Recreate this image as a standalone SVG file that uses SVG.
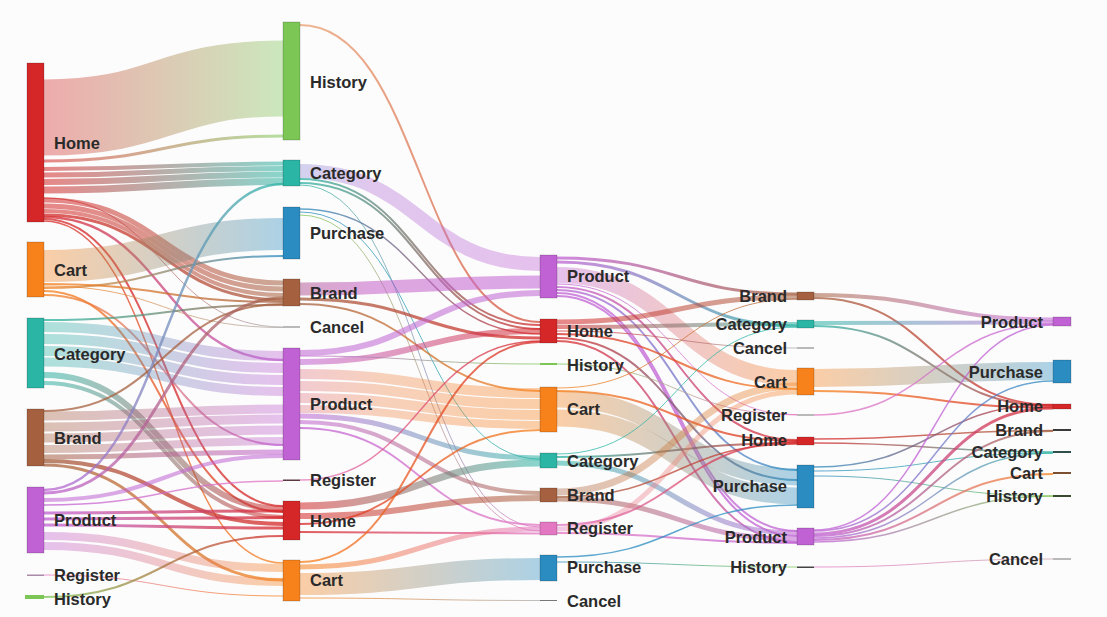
<svg xmlns="http://www.w3.org/2000/svg" width="1107" height="617" viewBox="0 0 1107 617">
<style>
  .bg{fill:#fcfcfc}
  .lk path{fill:none;stroke-linecap:butt}
  .k{stroke-opacity:.38}
  .m{stroke-opacity:.55}
  .t{stroke-opacity:.75}
  .nd{stroke:#000;stroke-opacity:.18;stroke-width:1}
  .ln{fill:#777}
  text{font-family:"Liberation Sans",Arial,sans-serif;font-size:16.5px;font-weight:bold;fill:#2a2a2a}
  .r{text-anchor:end}
  .hm{fill:#d62728}.ct{fill:#f7821c}.cg{fill:#2bb5a5}.br{fill:#a5603f}.pr{fill:#c062d4}
  .hi{fill:#7cc655}.pu{fill:#2a8cc0}.rg{fill:#e377c2}
</style>
<defs>
  <linearGradient id="hm-hi"><stop offset="0" stop-color="#d62728"/><stop offset="1" stop-color="#7cc655"/></linearGradient>
  <linearGradient id="hm-cg"><stop offset="0" stop-color="#d62728"/><stop offset="1" stop-color="#2bb5a5"/></linearGradient>
  <linearGradient id="hm-br"><stop offset="0" stop-color="#d62728"/><stop offset="1" stop-color="#a5603f"/></linearGradient>
  <linearGradient id="hm-pr"><stop offset="0" stop-color="#d62728"/><stop offset="1" stop-color="#c062d4"/></linearGradient>
  <linearGradient id="hm-ct"><stop offset="0" stop-color="#d62728"/><stop offset="1" stop-color="#f7821c"/></linearGradient>
  <linearGradient id="hm-rg"><stop offset="0" stop-color="#d62728"/><stop offset="1" stop-color="#e377c2"/></linearGradient>
  <linearGradient id="hm-cn"><stop offset="0" stop-color="#d62728"/><stop offset="1" stop-color="#aaaaaa"/></linearGradient>
  <linearGradient id="hm-pu"><stop offset="0" stop-color="#d62728"/><stop offset="1" stop-color="#2a8cc0"/></linearGradient>
  <linearGradient id="ct-pu"><stop offset="0" stop-color="#f7821c"/><stop offset="1" stop-color="#2a8cc0"/></linearGradient>
  <linearGradient id="ct-br"><stop offset="0" stop-color="#f7821c"/><stop offset="1" stop-color="#a5603f"/></linearGradient>
  <linearGradient id="ct-hm"><stop offset="0" stop-color="#f7821c"/><stop offset="1" stop-color="#d62728"/></linearGradient>
  <linearGradient id="ct-cn"><stop offset="0" stop-color="#f7821c"/><stop offset="1" stop-color="#aaaaaa"/></linearGradient>
  <linearGradient id="ct-pr"><stop offset="0" stop-color="#f7821c"/><stop offset="1" stop-color="#c062d4"/></linearGradient>
  <linearGradient id="ct-rg"><stop offset="0" stop-color="#f7821c"/><stop offset="1" stop-color="#e377c2"/></linearGradient>
  <linearGradient id="cg-br"><stop offset="0" stop-color="#2bb5a5"/><stop offset="1" stop-color="#a5603f"/></linearGradient>
  <linearGradient id="cg-pr"><stop offset="0" stop-color="#2bb5a5"/><stop offset="1" stop-color="#c062d4"/></linearGradient>
  <linearGradient id="cg-pr-b"><stop offset="0" stop-color="#8f8ed6"/><stop offset=".3" stop-color="#b270d6"/><stop offset="1" stop-color="#c062d4"/></linearGradient>
  <linearGradient id="cg-hm"><stop offset="0" stop-color="#2bb5a5"/><stop offset="1" stop-color="#d62728"/></linearGradient>
  <linearGradient id="cg-rg"><stop offset="0" stop-color="#2bb5a5"/><stop offset="1" stop-color="#e377c2"/></linearGradient>
  <linearGradient id="br-pr"><stop offset="0" stop-color="#a5603f"/><stop offset="1" stop-color="#c062d4"/></linearGradient>
  <linearGradient id="br-pr-b"><stop offset="0" stop-color="#b65f9a"/><stop offset=".3" stop-color="#c45fc8"/><stop offset="1" stop-color="#c062d4"/></linearGradient>
  <linearGradient id="br-hm"><stop offset="0" stop-color="#a5603f"/><stop offset="1" stop-color="#d62728"/></linearGradient>
  <linearGradient id="br-ct"><stop offset="0" stop-color="#a5603f"/><stop offset="1" stop-color="#f7821c"/></linearGradient>
  <linearGradient id="pr-cg"><stop offset="0" stop-color="#c062d4"/><stop offset="1" stop-color="#2bb5a5"/></linearGradient>
  <linearGradient id="pr-br"><stop offset="0" stop-color="#c062d4"/><stop offset="1" stop-color="#a5603f"/></linearGradient>
  <linearGradient id="pr-hm"><stop offset="0" stop-color="#c062d4"/><stop offset="1" stop-color="#d62728"/></linearGradient>
  <linearGradient id="pr-ct"><stop offset="0" stop-color="#c062d4"/><stop offset="1" stop-color="#f7821c"/></linearGradient>
  <linearGradient id="pr-ct-b"><stop offset="0" stop-color="#e07a8a"/><stop offset=".35" stop-color="#f08a50"/><stop offset="1" stop-color="#f7821c"/></linearGradient>
  <linearGradient id="pr-rg"><stop offset="0" stop-color="#c062d4"/><stop offset="1" stop-color="#e377c2"/></linearGradient>
  <linearGradient id="pr-hi"><stop offset="0" stop-color="#c062d4"/><stop offset="1" stop-color="#7cc655"/></linearGradient>
  <linearGradient id="pr-pu"><stop offset="0" stop-color="#c062d4"/><stop offset="1" stop-color="#2a8cc0"/></linearGradient>
  <linearGradient id="rg-ct"><stop offset="0" stop-color="#e377c2"/><stop offset="1" stop-color="#f7821c"/></linearGradient>
  <linearGradient id="rg-hm"><stop offset="0" stop-color="#e377c2"/><stop offset="1" stop-color="#d62728"/></linearGradient>
  <linearGradient id="rg-pr"><stop offset="0" stop-color="#e377c2"/><stop offset="1" stop-color="#c062d4"/></linearGradient>
  <linearGradient id="hi-hm"><stop offset="0" stop-color="#7cc655"/><stop offset="1" stop-color="#d62728"/></linearGradient>
  <linearGradient id="hi-hm-b"><stop offset="0" stop-color="#e9a070"/><stop offset=".4" stop-color="#e0805a"/><stop offset="1" stop-color="#d24a3a"/></linearGradient>
  <linearGradient id="hi-rg"><stop offset="0" stop-color="#7cc655"/><stop offset="1" stop-color="#e377c2"/></linearGradient>
  <linearGradient id="hi-cn"><stop offset="0" stop-color="#e377c2"/><stop offset="1" stop-color="#c8a0a8"/></linearGradient>
  <linearGradient id="pu-hm"><stop offset="0" stop-color="#2a8cc0"/><stop offset="1" stop-color="#d62728"/></linearGradient>
  <linearGradient id="pu-cg"><stop offset="0" stop-color="#2a8cc0"/><stop offset="1" stop-color="#2bb5a5"/></linearGradient>
  <linearGradient id="pu-rg"><stop offset="0" stop-color="#7cc655"/><stop offset="1" stop-color="#e377c2"/></linearGradient>
  <linearGradient id="pu-hi"><stop offset="0" stop-color="#2a8cc0"/><stop offset="1" stop-color="#7cc655"/></linearGradient>
</defs>
<rect class="bg" width="1107" height="617"/>

<g id="links" class="lk">
  <!-- step 1 -> step 2 -->
  <path class="k" stroke="url(#hm-hi)" stroke-width="76" d="M44 117.5C163.5 117.5 163.5 78.5 283 78.5"/>
  <path class="m" stroke="url(#hm-hi)" stroke-width="3" d="M44 161C163.5 161 163.5 136 283 136"/>
  <path class="m" stroke="url(#hm-cg)" stroke-width="4" d="M44 169C163.5 169 163.5 163.5 283 163.5"/>
  <path class="m" stroke="url(#hm-cg)" stroke-width="5" d="M44 175C163.5 175 163.5 168.5 283 168.5"/>
  <path class="m" stroke="url(#hm-cg)" stroke-width="6" d="M44 182C163.5 182 163.5 174.5 283 174.5"/>
  <path class="m" stroke="url(#hm-cg)" stroke-width="7" d="M44 190C163.5 190 163.5 181.5 283 181.5"/>
  <path class="m" stroke="url(#hm-br)" stroke-width="5" d="M44 200C163.5 200 163.5 283 283 283"/>
  <path class="m" stroke="url(#hm-br)" stroke-width="5" d="M44 206C163.5 206 163.5 289 283 289"/>
  <path class="m" stroke="url(#hm-br)" stroke-width="4" d="M44 211C163.5 211 163.5 295 283 295"/>
  <path class="t" stroke="url(#hm-br)" stroke-width="3" d="M44 215C163.5 215 163.5 300 283 300"/>
  <path class="t" stroke="url(#hm-pr)" stroke-width="2.5" d="M44 217C163.5 217 163.5 360 283 360"/>
  <path class="t" stroke="#d62728" stroke-width="2" d="M44 219C163.5 219 163.5 506 283 506"/>
  <path class="t" stroke="url(#hm-ct)" stroke-width="1.5" d="M44 221C163.5 221 163.5 563 283 563"/>
  <path class="t" stroke="url(#hm-cn)" stroke-width="1" d="M44 198C163.5 198 163.5 327 283 327"/>
  <path class="k" stroke="url(#ct-pu)" stroke-width="32" d="M44 266C163.5 266 163.5 234 283 234"/>
  <path class="t" stroke="url(#ct-pu)" stroke-width="2" d="M44 288C163.5 288 163.5 256 283 256"/>
  <path class="t" stroke="url(#ct-br)" stroke-width="2" d="M44 284C163.5 284 163.5 302 283 302"/>
  <path class="t" stroke="url(#ct-cn)" stroke-width="1" d="M44 286C163.5 286 163.5 327.5 283 327.5"/>
  <path class="t" stroke="url(#ct-hm)" stroke-width="2" d="M44 291C163.5 291 163.5 512 283 512"/>
  <path class="t" stroke="url(#ct-pr)" stroke-width="2" d="M44 295C163.5 295 163.5 445 283 445"/>
  <path class="t" stroke="url(#cg-br)" stroke-width="2" d="M44 320C163.5 320 163.5 305 283 305"/>
  <path class="k" stroke="url(#cg-pr)" stroke-width="10" d="M44 327C163.5 327 163.5 356 283 356"/>
  <path class="k" stroke="url(#cg-pr)" stroke-width="10" d="M44 339C163.5 339 163.5 368 283 368"/>
  <path class="k" stroke="url(#cg-pr)" stroke-width="10" d="M44 351C163.5 351 163.5 380 283 380"/>
  <path class="k" stroke="url(#cg-pr)" stroke-width="9" d="M44 362C163.5 362 163.5 391.5 283 391.5"/>
  <path class="m" stroke="url(#cg-hm)" stroke-width="6" d="M44 375C163.5 375 163.5 509 283 509"/>
  <path class="m" stroke="url(#cg-hm)" stroke-width="4" d="M44 383C163.5 383 163.5 517 283 517"/>
  <path class="t" stroke="#a5603f" stroke-width="2" d="M44 411C163.5 411 163.5 304 283 304"/>
  <path class="k" stroke="url(#br-pr)" stroke-width="9" d="M44 416C163.5 416 163.5 409 283 409"/>
  <path class="k" stroke="url(#br-pr)" stroke-width="9" d="M44 427C163.5 427 163.5 419 283 419"/>
  <path class="k" stroke="url(#br-pr)" stroke-width="9" d="M44 438C163.5 438 163.5 430 283 430"/>
  <path class="k" stroke="url(#br-pr)" stroke-width="8" d="M44 449C163.5 449 163.5 441 283 441"/>
  <path class="m" stroke="url(#br-pr)" stroke-width="5" d="M44 457C163.5 457 163.5 452 283 452"/>
  <path class="t" stroke="url(#br-hm)" stroke-width="4" d="M44 461C163.5 461 163.5 524 283 524"/>
  <path class="t" stroke="url(#br-ct)" stroke-width="3" d="M44 465C163.5 465 163.5 580 283 580"/>
  <path class="t" stroke="url(#pr-cg)" stroke-width="2.5" d="M44 490C163.5 490 163.5 184 283 184"/>
  <path class="t" stroke="url(#pr-br)" stroke-width="3" d="M44 493C163.5 493 163.5 298 283 298"/>
  <path class="m" stroke="#c062d4" stroke-width="4" d="M44 500C163.5 500 163.5 456 283 456"/>
  <path class="t" stroke="url(#pr-rg)" stroke-width="1.5" d="M44 505C163.5 505 163.5 481 283 481"/>
  <path class="t" stroke="url(#pr-hm)" stroke-width="3" d="M44 513C163.5 513 163.5 511 283 511"/>
  <path class="t" stroke="url(#pr-hm)" stroke-width="3" d="M44 519C163.5 519 163.5 517.5 283 517.5"/>
  <path class="t" stroke="url(#pr-hm)" stroke-width="3" d="M44 525C163.5 525 163.5 528 283 528"/>
  <path class="k" stroke="url(#pr-ct)" stroke-width="8" d="M44 536C163.5 536 163.5 568 283 568"/>
  <path class="k" stroke="url(#pr-ct)" stroke-width="8" d="M44 546C163.5 546 163.5 582 283 582"/>
  <path class="t" stroke="url(#rg-ct)" stroke-width="1" d="M44 575C163.5 575 163.5 596 283 596"/>
  <path class="t" stroke="url(#hi-hm)" stroke-width="2" d="M44 597C163.5 597 163.5 536 283 536"/>

  <!-- step 2 -> step 3 -->
  <path class="t" stroke="url(#hi-hm-b)" stroke-width="2" d="M300 25C420 25 420 322 540 322"/>
  <path class="k" stroke="url(#cg-pr-b)" stroke-width="14" d="M300 171C420 171 420 264 540 264"/>
  <path class="t" stroke="url(#cg-hm)" stroke-width="2" d="M300 179C420 179 420 325 540 325"/>
  <path class="t" stroke="url(#cg-hm)" stroke-width="2" d="M300 183C420 183 420 329 540 329"/>
  <path class="t" stroke="url(#cg-rg)" stroke-width="1" d="M300 185C420 185 420 527 540 527"/>
  <path class="t" stroke="url(#pu-hm)" stroke-width="1.5" d="M300 209C420 209 420 334 540 334"/>
  <path class="t" stroke="url(#pu-cg)" stroke-width="1" d="M300 212C420 212 420 459 540 459"/>
  <path class="t" stroke="url(#pu-rg)" stroke-width="1" d="M300 215C420 215 420 531 540 531"/>
  <path class="m" stroke="url(#br-pr-b)" stroke-width="13" d="M300 289C420 289 420 282 540 282"/>
  <path class="t" stroke="url(#br-hm)" stroke-width="3" d="M300 299C420 299 420 338 540 338"/>
  <path class="t" stroke="url(#br-ct)" stroke-width="2" d="M300 304C420 304 420 391 540 391"/>
  <path class="m" stroke="#c062d4" stroke-width="6" d="M300 353C420 353 420 293 540 293"/>
  <path class="m" stroke="url(#pr-hm)" stroke-width="6" d="M300 362C420 362 420 331 540 331"/>
  <path class="t" stroke="url(#pr-hi)" stroke-width="1" d="M300 356C420 356 420 364 540 364"/>
  <path class="k" stroke="url(#pr-ct-b)" stroke-width="10" d="M300 374C420 374 420 393 540 393"/>
  <path class="k" stroke="url(#pr-ct-b)" stroke-width="10" d="M300 386C420 386 420 404 540 404"/>
  <path class="k" stroke="url(#pr-ct-b)" stroke-width="10" d="M300 398C420 398 420 415 540 415"/>
  <path class="k" stroke="url(#pr-ct-b)" stroke-width="8" d="M300 409C420 409 420 425 540 425"/>
  <path class="m" stroke="url(#pr-cg)" stroke-width="5" d="M300 416C420 416 420 458 540 458"/>
  <path class="m" stroke="url(#pr-br)" stroke-width="4" d="M300 422C420 422 420 493 540 493"/>
  <path class="t" stroke="url(#pr-rg)" stroke-width="2" d="M300 428C420 428 420 525 540 525"/>
  <path class="t" stroke="url(#rg-hm)" stroke-width="1.5" d="M300 480C420 480 420 341 540 341"/>
  <path class="m" stroke="url(#hm-cg)" stroke-width="7" d="M300 506C420 506 420 463 540 463"/>
  <path class="m" stroke="url(#hm-br)" stroke-width="6" d="M300 516C420 516 420 498 540 498"/>
  <path class="t" stroke="url(#hm-ct)" stroke-width="2" d="M300 524C420 524 420 430 540 430"/>
  <path class="t" stroke="url(#hm-rg)" stroke-width="2" d="M300 532C420 532 420 533.5 540 533.5"/>
  <path class="t" stroke="url(#ct-hm)" stroke-width="2" d="M300 562C420 562 420 342 540 342"/>
  <path class="m" stroke="url(#ct-rg)" stroke-width="5" d="M300 567C420 567 420 529 540 529"/>
  <path class="k" stroke="url(#ct-pu)" stroke-width="22" d="M300 584C420 584 420 569 540 569"/>
  <path class="t" stroke="url(#ct-cn)" stroke-width="1" d="M300 598C420 598 420 600.5 540 600.5"/>

  <!-- step 3 -> step 4 -->
  <path class="t" stroke="url(#pr-br)" stroke-width="3" d="M557 258C677 258 677 294 797 294"/>
  <path class="t" stroke="url(#pr-cg)" stroke-width="3" d="M557 262C677 262 677 326 797 326"/>
  <path class="k" stroke="url(#pr-ct)" stroke-width="16" d="M557 275C677 275 677 378 797 378"/>
  <path class="t" stroke="url(#pr-rg)" stroke-width="1" d="M557 284C677 284 677 415 797 415"/>
  <path class="t" stroke="url(#pr-hm)" stroke-width="2" d="M557 287C677 287 677 440 797 440"/>
  <path class="t" stroke="url(#pr-pu)" stroke-width="2" d="M557 290C677 290 677 470 797 470"/>
  <path class="t" stroke="#c062d4" stroke-width="2" d="M557 293C677 293 677 531 797 531"/>
  <path class="t" stroke="#c062d4" stroke-width="2" d="M557 296C677 296 677 536 797 536"/>
  <path class="m" stroke="url(#hm-br)" stroke-width="5" d="M557 322C677 322 677 297 797 297"/>
  <path class="m" stroke="url(#hm-cg)" stroke-width="4" d="M557 327C677 327 677 324 797 324"/>
  <path class="t" stroke="url(#hm-cn)" stroke-width="1" d="M557 331C677 331 677 348 797 348"/>
  <path class="t" stroke="url(#hm-ct)" stroke-width="2" d="M557 334C677 334 677 389 797 389"/>
  <path class="t" stroke="url(#hm-pu)" stroke-width="2" d="M557 338C677 338 677 480 797 480"/>
  <path class="t" stroke="url(#hm-pr)" stroke-width="2" d="M557 341C677 341 677 542 797 542"/>
  <path class="t" stroke="url(#hi-rg)" stroke-width="1" d="M557 364C677 364 677 414.5 797 414.5"/>
  <path class="t" stroke="url(#ct-br)" stroke-width="1" d="M557 388C677 388 677 299 797 299"/>
  <path class="t" stroke="url(#ct-hm)" stroke-width="2" d="M557 391C677 391 677 441 797 441"/>
  <path class="k" stroke="url(#ct-pu)" stroke-width="17" d="M557 399C677 399 677 477 797 477"/>
  <path class="k" stroke="url(#ct-pu)" stroke-width="17" d="M557 418C677 418 677 496 797 496"/>
  <path class="t" stroke="#2bb5a5" stroke-width="1" d="M557 454C677 454 677 327 797 327"/>
  <path class="t" stroke="url(#cg-hm)" stroke-width="2" d="M557 457C677 457 677 443 797 443"/>
  <path class="m" stroke="url(#cg-pr)" stroke-width="5" d="M557 463C677 463 677 533 797 533"/>
  <path class="k" stroke="url(#br-ct)" stroke-width="7" d="M557 492C677 492 677 386 797 386"/>
  <path class="t" stroke="url(#br-hm)" stroke-width="1.5" d="M557 497C677 497 677 444 797 444"/>
  <path class="m" stroke="url(#br-pr)" stroke-width="5" d="M557 499C677 499 677 539 797 539"/>
  <path class="k" stroke="url(#rg-ct)" stroke-width="5" d="M557 529C677 529 677 392 797 392"/>
  <path class="t" stroke="url(#rg-hm)" stroke-width="2" d="M557 525C677 525 677 442 797 442"/>
  <path class="t" stroke="url(#rg-pr)" stroke-width="2" d="M557 533C677 533 677 543 797 543"/>
  <path class="t" stroke="#2a8cc0" stroke-width="1.5" d="M557 557C677 557 677 505 797 505"/>
  <path class="t" stroke="url(#pu-hi)" stroke-width="1" d="M557 562C677 562 677 567 797 567"/>

  <!-- step 4 -> step 5 -->
  <path class="m" stroke="url(#br-pr)" stroke-width="4" d="M814 295C933.5 295 933.5 319.5 1053 319.5"/>
  <path class="t" stroke="url(#br-hm)" stroke-width="2" d="M814 298C933.5 298 933.5 405 1053 405"/>
  <path class="m" stroke="url(#cg-pr)" stroke-width="4" d="M814 323C933.5 323 933.5 322.5 1053 322.5"/>
  <path class="t" stroke="url(#cg-hm)" stroke-width="2" d="M814 326C933.5 326 933.5 406 1053 406"/>
  <path class="k" stroke="url(#ct-pu)" stroke-width="18" d="M814 378C933.5 378 933.5 371 1053 371"/>
  <path class="t" stroke="url(#ct-hm)" stroke-width="2" d="M814 391C933.5 391 933.5 407.5 1053 407.5"/>
  <path class="t" stroke="url(#rg-pr)" stroke-width="1.5" d="M814 415C933.5 415 933.5 324 1053 324"/>
  <path class="t" stroke="url(#hm-br)" stroke-width="1.5" d="M814 439C933.5 439 933.5 430.5 1053 430.5"/>
  <path class="t" stroke="url(#hm-cg)" stroke-width="1.5" d="M814 443C933.5 443 933.5 452 1053 452"/>
  <path class="t" stroke="url(#pu-hm)" stroke-width="1.5" d="M814 467C933.5 467 933.5 404.5 1053 404.5"/>
  <path class="t" stroke="url(#pu-cg)" stroke-width="1" d="M814 471C933.5 471 933.5 453 1053 453"/>
  <path class="t" stroke="url(#pu-hi)" stroke-width="1" d="M814 476C933.5 476 933.5 496 1053 496"/>
  <path class="t" stroke="#c062d4" stroke-width="1.5" d="M814 530C933.5 530 933.5 325 1053 325"/>
  <path class="t" stroke="url(#pr-pu)" stroke-width="1.5" d="M814 531C933.5 531 933.5 381 1053 381"/>
  <path class="t" stroke="url(#pr-hm)" stroke-width="3" d="M814 534C933.5 534 933.5 408 1053 408"/>
  <path class="t" stroke="url(#pr-br)" stroke-width="2" d="M814 536C933.5 536 933.5 431 1053 431"/>
  <path class="t" stroke="url(#pr-cg)" stroke-width="1.5" d="M814 538C933.5 538 933.5 453 1053 453"/>
  <path class="t" stroke="url(#pr-ct)" stroke-width="2" d="M814 540C933.5 540 933.5 474 1053 474"/>
  <path class="t" stroke="url(#pr-hi)" stroke-width="1.5" d="M814 542C933.5 542 933.5 496 1053 496"/>
  <path class="t" stroke="url(#hi-cn)" stroke-width="1" d="M814 567C933.5 567 933.5 559 1053 559"/>
</g>

<!-- step 1 -->
<g id="s1-home"><rect class="nd hm" x="27" y="63" width="17" height="159"/><text x="54" y="149">Home</text></g>
<g id="s1-cart"><rect class="nd ct" x="27" y="242" width="17" height="55"/><text x="54" y="276">Cart</text></g>
<g id="s1-category"><rect class="nd cg" x="27" y="318" width="17" height="70"/><text x="54" y="360">Category</text></g>
<g id="s1-brand"><rect class="nd br" x="27" y="409" width="17" height="57"/><text x="54" y="444">Brand</text></g>
<g id="s1-product"><rect class="nd pr" x="27" y="487" width="17" height="66"/><text x="54" y="526">Product</text></g>
<g id="s1-register"><rect x="27" y="574.5" width="17" height="1.5" fill="#a98aa8"/><text x="54" y="581">Register</text></g>
<g id="s1-history"><rect class="hi" x="25" y="595" width="19" height="4"/><text x="54" y="605">History</text></g>

<!-- step 2 -->
<g id="s2-history"><rect class="nd hi" x="283" y="22" width="17" height="118"/><text x="310" y="88">History</text></g>
<g id="s2-category"><rect class="nd cg" x="283" y="160" width="17" height="26"/><text x="310" y="179">Category</text></g>
<g id="s2-purchase"><rect class="nd pu" x="283" y="207" width="17" height="52"/><text x="310" y="239">Purchase</text></g>
<g id="s2-brand"><rect class="nd br" x="283" y="279" width="17" height="27"/><text x="310" y="299">Brand</text></g>
<g id="s2-cancel"><rect class="ln" x="283" y="326.5" width="17" height="1"/><text x="310" y="333">Cancel</text></g>
<g id="s2-product"><rect class="nd pr" x="283" y="348" width="17" height="112"/><text x="310" y="410">Product</text></g>
<g id="s2-register"><rect x="283" y="479.5" width="17" height="1.5" fill="#5a3a40"/><text x="310" y="486">Register</text></g>
<g id="s2-home"><rect class="nd hm" x="283" y="501" width="17" height="39"/><text x="310" y="527">Home</text></g>
<g id="s2-cart"><rect class="nd ct" x="283" y="560" width="17" height="41"/><text x="310" y="586">Cart</text></g>

<!-- step 3 -->
<g id="s3-product"><rect class="nd pr" x="540" y="255" width="17" height="43"/><text x="567" y="282">Product</text></g>
<g id="s3-home"><rect class="nd hm" x="540" y="319" width="17" height="24"/><text x="567" y="337">Home</text></g>
<g id="s3-history"><rect class="hi" x="540" y="363" width="17" height="2"/><text x="567" y="371">History</text></g>
<g id="s3-cart"><rect class="nd ct" x="540" y="387" width="17" height="45"/><text x="567" y="415">Cart</text></g>
<g id="s3-category"><rect class="nd cg" x="540" y="453" width="17" height="15"/><text x="567" y="467">Category</text></g>
<g id="s3-brand"><rect class="nd br" x="540" y="488" width="17" height="14"/><text x="567" y="501">Brand</text></g>
<g id="s3-register"><rect class="nd rg" x="540" y="522" width="17" height="13"/><text x="567" y="534">Register</text></g>
<g id="s3-purchase"><rect class="nd pu" x="540" y="555" width="17" height="26"/><text x="567" y="573">Purchase</text></g>
<g id="s3-cancel"><rect class="ln" x="540" y="600" width="17" height="1"/><text x="567" y="607">Cancel</text></g>

<!-- step 4 -->
<g id="s4-brand"><rect class="nd br" x="797" y="292" width="17" height="8"/><text class="r" x="787" y="302">Brand</text></g>
<g id="s4-category"><rect class="nd cg" x="797" y="320" width="17" height="8"/><text class="r" x="787" y="330">Category</text></g>
<g id="s4-cancel"><rect class="ln" x="797" y="347.5" width="17" height="1"/><text class="r" x="787" y="354">Cancel</text></g>
<g id="s4-cart"><rect class="nd ct" x="797" y="368" width="17" height="27"/><text class="r" x="787" y="388">Cart</text></g>
<g id="s4-register"><rect class="ln" x="797" y="414.5" width="17" height="1"/><text class="r" x="787" y="421">Register</text></g>
<g id="s4-home"><rect class="nd hm" x="797" y="437" width="17" height="8"/><text class="r" x="787" y="446">Home</text></g>
<g id="s4-purchase"><rect class="nd pu" x="797" y="465" width="17" height="43"/><text class="r" x="787" y="492">Purchase</text></g>
<g id="s4-product"><rect class="nd pr" x="797" y="528" width="17" height="17"/><text class="r" x="787" y="543">Product</text></g>
<g id="s4-history"><rect x="797" y="566.5" width="17" height="1.5" fill="#444"/><text class="r" x="787" y="573">History</text></g>

<!-- step 5 -->
<g id="s5-product"><rect class="nd pr" x="1053" y="317" width="18" height="9"/><text class="r" x="1043" y="328">Product</text></g>
<g id="s5-purchase"><rect class="nd pu" x="1053" y="360" width="18" height="23"/><text class="r" x="1043" y="378">Purchase</text></g>
<g id="s5-home"><rect class="nd hm" x="1053" y="404" width="18" height="5"/><text class="r" x="1043" y="412">Home</text></g>
<g id="s5-brand"><rect x="1053" y="429" width="18" height="2" fill="#3a3a3a"/><text class="r" x="1043" y="436">Brand</text></g>
<g id="s5-category"><rect x="1053" y="451" width="18" height="2" fill="#2f4f4a"/><text class="r" x="1043" y="458">Category</text></g>
<g id="s5-cart"><rect x="1053" y="472" width="18" height="2" fill="#7a5030"/><text class="r" x="1043" y="479">Cart</text></g>
<g id="s5-history"><rect x="1053" y="495" width="18" height="2" fill="#3a4a30"/><text class="r" x="1043" y="502">History</text></g>
<g id="s5-cancel"><rect class="ln" x="1053" y="558.5" width="18" height="1"/><text class="r" x="1043" y="565">Cancel</text></g>
</svg>
